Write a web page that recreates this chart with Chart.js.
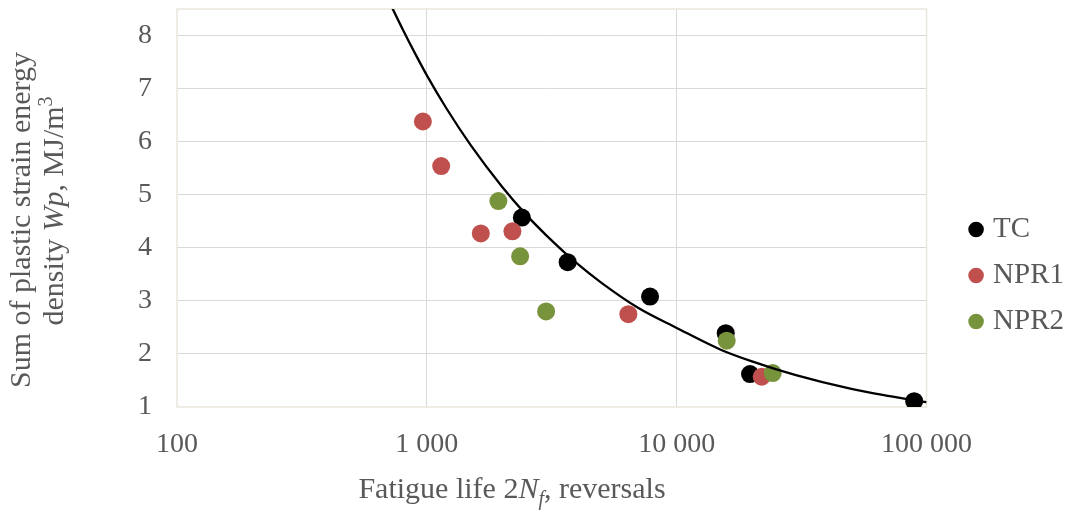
<!DOCTYPE html>
<html><head><meta charset="utf-8">
<script src="https://cdn.jsdelivr.net/npm/chart.js@4/dist/chart.umd.min.js"></script>
<style>html,body{margin:0;padding:0;background:#fff}#wrap{width:1074px;height:515px}</style>
</head><body><div id="wrap"><canvas id="c" width="1074" height="515"></canvas></div>
<script>
const xTickValues = [100, 1000, 10000, 100000];
const yTickValues = [1, 2, 3, 4, 5, 6, 7, 8];
const seriesNames = ['TC', 'NPR1', 'NPR2'];
const seriesColors = ['#000000', '#C0504D', '#77933C'];

const tcLife = [2400, 3660, 7820, 15710, 19650, 89200];
const tcEnergy = [4.57, 3.73, 3.08, 2.39, 1.62, 1.11];
const npr1Life = [964, 1141, 1644, 2200, 6403, 21880];
const npr1Energy = [6.38, 5.54, 4.27, 4.31, 2.75, 1.57];
const npr2Life = [1933, 2362, 3001, 15850, 24220];
const npr2Energy = [4.88, 3.84, 2.80, 2.25, 1.64];

const trendLife = [700, 800, 900, 1000, 1200, 1500, 2000, 2500, 3000, 4000, 5000, 7000, 10000, 15000, 20000, 30000, 50000, 70000, 100000];
const trendEnergy = [8.68, 8.12, 7.65, 7.25, 6.62, 5.93, 5.15, 4.62, 4.24, 3.70, 3.34, 2.87, 2.49, 2.08, 1.86, 1.60, 1.34, 1.21, 1.09];

const FONT = 'Liberation Serif';
const TXT = '#595959';
const zip = (a, b) => a.map((v, i) => ({x: v, y: b[i]}));
const fmt = v => String(Math.round(v)).replace(/\B(?=(\d{3})+(?!\d))/g, ' ');

function drawRich(ctx, segs, cx, baseY, size) {
  const parts = segs.map(s => {
    const sz = (s.sub || s.sup) ? Math.round(size * 0.65) : size;
    const f = (s.italic ? 'italic ' : '') + sz + 'px "' + FONT + '"';
    ctx.font = f;
    return {t: s.t, f, w: ctx.measureText(s.t).width, dy: s.sub ? size * 0.22 : (s.sup ? -size * 0.36 : 0)};
  });
  const total = parts.reduce((a, p) => a + p.w, 0);
  let x = cx - total / 2;
  ctx.textAlign = 'left';
  ctx.textBaseline = 'alphabetic';
  ctx.fillStyle = TXT;
  parts.forEach(p => { ctx.font = p.f; ctx.fillText(p.t, x, baseY + p.dy); x += p.w; });
}

const decor = {
  id: 'decor',
  beforeDatasetsDraw(chart) {
    const {ctx, chartArea: a} = chart;
    ctx.save();
    ctx.strokeStyle = '#e9e6dc';
    ctx.lineWidth = 1.5;
    ctx.strokeRect(a.left, a.top, a.right - a.left, a.bottom - a.top);
    ctx.restore();
  },
  afterDraw(chart) {
    const {ctx} = chart;
    ctx.save();
    drawRich(ctx, [{t: 'Fatigue life 2'}, {t: 'N', italic: true}, {t: 'f', italic: true, sub: true}, {t: ', reversals'}], 512, 498, 30);
    ctx.rotate(-Math.PI / 2);
    drawRich(ctx, [{t: 'Sum of plastic strain energy'}], -220, 30, 30);
    drawRich(ctx, [{t: 'density '}, {t: 'Wp', italic: true}, {t: ', MJ/m'}, {t: '3', sup: true}], -211, 63, 30);
    ctx.restore();
  }
};

const gridColor = (ctx) => {
  const s = ctx.scale, v = ctx.tick && ctx.tick.value;
  if (v === s.min || v === s.max) return 'rgba(0,0,0,0)';
  return '#d9d9d9';
};
const noPad = s => { s.paddingTop = 0; s.paddingBottom = 0; s.paddingLeft = 0; s.paddingRight = 0; };

const pointSeries = [zip(tcLife, tcEnergy), zip(npr1Life, npr1Energy), zip(npr2Life, npr2Energy)];

new Chart(document.getElementById('c'), {
  type: 'scatter',
  data: {
    datasets: [
      ...pointSeries.map((d, i) => ({
        label: seriesNames[i], data: d, backgroundColor: seriesColors[i], borderColor: seriesColors[i],
        borderWidth: 0, pointRadius: 9, pointHoverRadius: 9, order: 3 - i
      })),
      {label: 'trend', data: zip(trendLife, trendEnergy), showLine: true, borderColor: '#000', borderWidth: 2.3,
       pointRadius: 0, pointHoverRadius: 0, cubicInterpolationMode: 'monotone', order: 0, fill: false}
    ]
  },
  options: {
    responsive: false, animation: false, devicePixelRatio: 1,
    layout: {padding: {top: 6, left: 0, right: 0, bottom: 0}},
    plugins: {
      tooltip: {enabled: false},
      legend: {
        position: 'right', align: 'center',
        title: {display: true, text: '', padding: {top: 0, bottom: 18}, font: {size: 10}},
        labels: {
          usePointStyle: true, pointStyle: 'circle', boxWidth: 5, boxHeight: 11, padding: 17,
          font: {family: FONT, size: 29}, color: TXT,
          filter: item => item.datasetIndex < 3,
          sort: (a, b) => a.datasetIndex - b.datasetIndex
        }
      }
    },
    scales: {
      x: {
        type: 'logarithmic', min: 100, max: 100000, position: 'bottom',
        afterBuildTicks: s => { s.ticks = xTickValues.map(v => ({value: v})); },
        afterFit: s => { s.height = 108; noPad(s); },
        ticks: {callback: v => fmt(v), font: {family: FONT, size: 28}, color: TXT, padding: 21, maxRotation: 0, autoSkip: false},
        grid: {color: gridColor, drawTicks: false, lineWidth: 1},
        border: {display: false}
      },
      y: {
        min: 1, max: 8.5,
        afterBuildTicks: s => { s.ticks = yTickValues.map(v => ({value: v})); },
        afterFit: s => { s.width = 177; noPad(s); },
        ticks: {font: {family: FONT, size: 28}, color: TXT, padding: 25},
        grid: {color: gridColor, drawTicks: false, lineWidth: 1},
        border: {display: false}
      },
      gap: {
        position: 'right', display: true,
        afterFit: s => { s.width = 30; noPad(s); },
        ticks: {display: false}, grid: {display: false}, border: {display: false}
      }
    }
  },
  plugins: [decor]
});
</script></body></html>
